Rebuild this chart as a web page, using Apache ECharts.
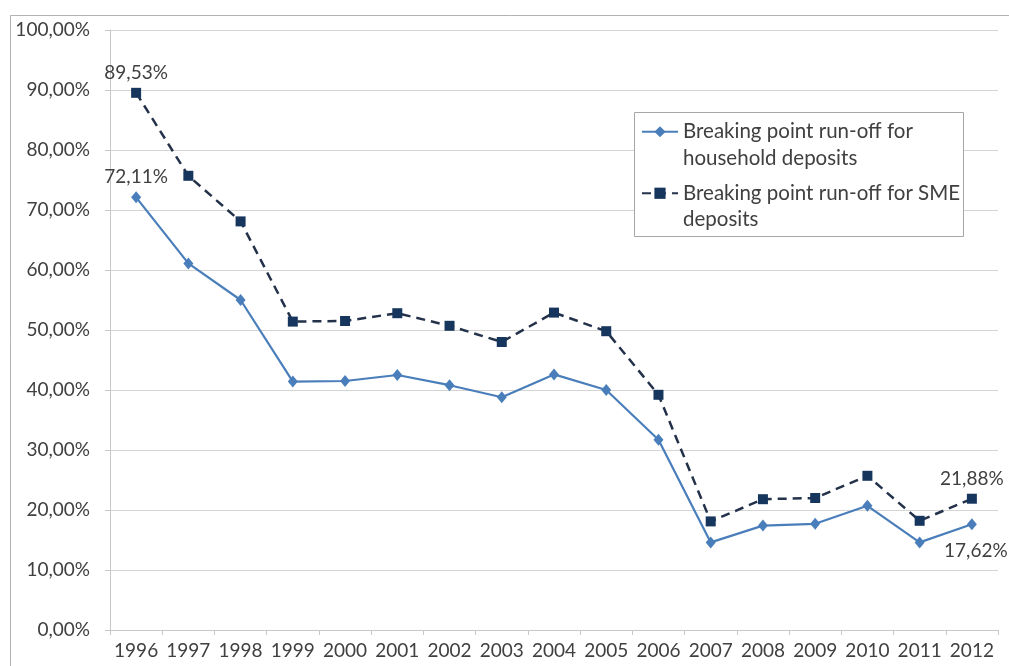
<!DOCTYPE html>
<html>
<head>
<meta charset="utf-8">
<title>Breaking point run-off</title>
<script src="https://cdn.jsdelivr.net/npm/echarts@6/dist/echarts.min.js"></script>
<style>
  html, body { margin: 0; padding: 0; background: #ffffff; }
  #chart { width: 1009px; height: 666px; }
</style>
</head>
<body>
<div id="chart"></div>
<script>
// Years on the horizontal axis
const years = ['1996', '1997', '1998', '1999', '2000', '2001', '2002', '2003', '2004',
               '2005', '2006', '2007', '2008', '2009', '2010', '2011', '2012'];

// Breaking point run-off, in percent
const householdRunoff = [72.11, 61.1, 55.0, 41.4, 41.5, 42.5, 40.8, 38.8, 42.6,
                         40.0, 31.7, 14.6, 17.4, 17.7, 20.7, 14.6, 17.62];
const smeRunoff = [89.53, 75.7, 68.1, 51.4, 51.5, 52.8, 50.7, 48.0, 52.9,
                   49.8, 39.2, 18.1, 21.8, 22.0, 25.7, 18.2, 21.88];

// Series names and their legend wording
const seriesNames = ['Breaking point run-off for household deposits',
                     'Breaking point run-off for SME deposits'];
const legendLines = [['Breaking point run-off for', 'household deposits'],
                     ['Breaking point run-off for SME', 'deposits']];

// Y axis range, in percent
const yMin = 0, yMax = 100, yStep = 10;

const FONT = 'Lato';
const TEXT = '#404040';
const fmtPct = v => v.toFixed(2).replace('.', ',') + '%';

// Value labels are shown on the first and last point of each line
function withEndLabels(values, firstLabel, lastLabel) {
  return values.map((v, i) => {
    if (i === 0) return { value: v, label: Object.assign({ show: true }, firstLabel) };
    if (i === values.length - 1) return { value: v, label: Object.assign({ show: true }, lastLabel) };
    return v;
  });
}

const labelText = {
  fontFamily: FONT, fontSize: 19, color: TEXT,
  formatter: p => fmtPct(p.value)
};

const chart = echarts.init(document.getElementById('chart'), null, { renderer: 'canvas' });

chart.setOption({
  backgroundColor: '#ffffff',
  animation: false,
  textStyle: { fontFamily: FONT },
  graphic: [
    { type: 'rect', z: -10, silent: true,
      shape: { x: 10.5, y: 15.5, width: 1200, height: 1000 },
      style: { fill: 'none', stroke: '#b3b3b3', lineWidth: 1 } },
    { type: 'rect', z: 3, silent: true,
      shape: { x: 634.5, y: 112.5, width: 329, height: 124 },
      style: { fill: '#ffffff', stroke: '#a6a6a6', lineWidth: 1 } }
  ],
  grid: { left: 110, right: 11, top: 30, bottom: 36, containLabel: false },
  legend: {
    orient: 'vertical',
    left: 641,
    top: 92,
    z: 4,
    padding: 0,
    itemGap: -18,
    itemWidth: 36,
    itemHeight: 14,
    data: seriesNames,
    // a leading blank line keeps the icon level with the first text line
    formatter: name => '\n' + legendLines[seriesNames.indexOf(name)].join('\n'),
    textStyle: {
      fontFamily: FONT, fontSize: 20.5, color: TEXT,
      lineHeight: 26.5
    }
  },
  xAxis: {
    type: 'category',
    data: years,
    boundaryGap: true,
    axisLine: { show: true, lineStyle: { color: '#c8c8c8', width: 1 } },
    axisTick: { show: true, length: 5, lineStyle: { color: '#c8c8c8' } },
    axisLabel: { fontFamily: FONT, fontSize: 19, color: TEXT, margin: 11, interval: 0 },
    splitLine: { show: false }
  },
  yAxis: {
    type: 'value',
    min: yMin, max: yMax, interval: yStep,
    axisLine: { show: true, lineStyle: { color: '#c8c8c8', width: 1 } },
    axisTick: { show: true, length: 5, lineStyle: { color: '#c8c8c8' } },
    axisLabel: { fontFamily: FONT, fontSize: 19, color: TEXT, margin: 20, formatter: v => fmtPct(v) },
    splitLine: { show: true, lineStyle: { color: '#d4d4d4', width: 1 } }
  },
  series: [
    {
      name: seriesNames[0],
      type: 'line',
      data: withEndLabels(householdRunoff,
        Object.assign({ position: 'top', distance: 5 }, labelText),
        Object.assign({ position: 'bottom', distance: 11, offset: [4, 0] }, labelText)),
      symbol: 'diamond',
      symbolSize: [10, 12],
      lineStyle: { color: '#4a7ebb', width: 2.2 },
      itemStyle: { color: '#4a7ebb' },
      z: 3
    },
    {
      name: seriesNames[1],
      type: 'line',
      data: withEndLabels(smeRunoff,
        Object.assign({ position: 'top', distance: 5 }, labelText),
        Object.assign({ position: 'top', distance: 5 }, labelText)),
      symbol: 'rect',
      symbolSize: 10,
      lineStyle: { color: '#23324a', width: 2.5, type: [9, 6] },
      itemStyle: { color: '#17365d' },
      z: 4
    }
  ]
});
</script>
</body>
</html>
